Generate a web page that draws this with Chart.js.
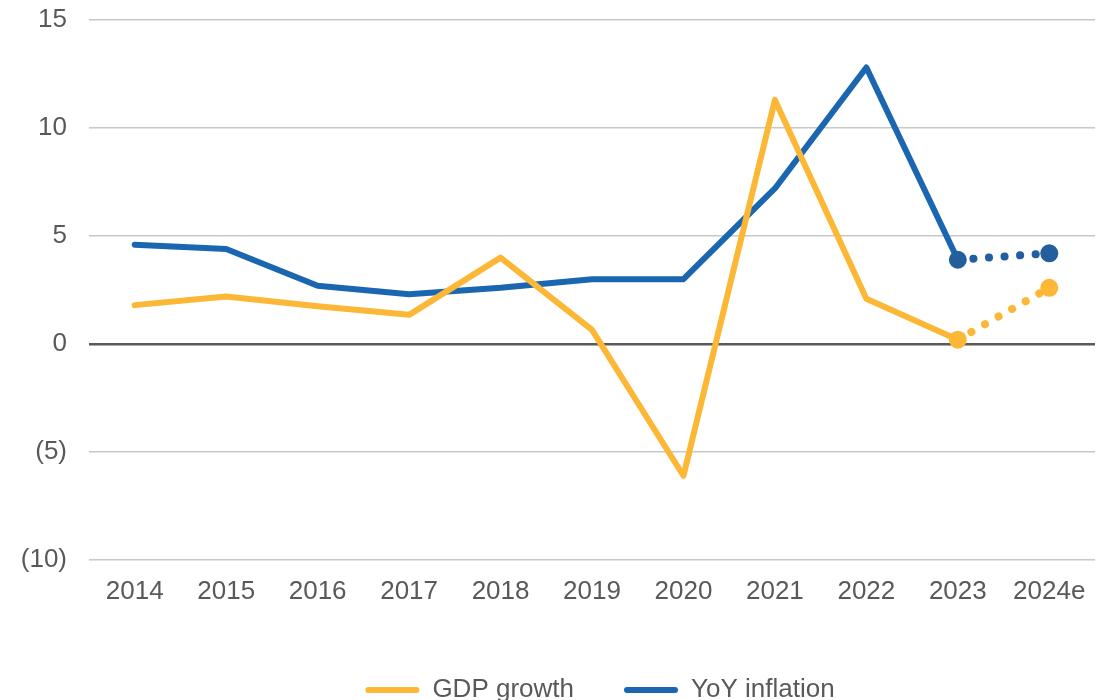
<!DOCTYPE html>
<html>
<head>
<meta charset="utf-8">
<script src="https://cdn.jsdelivr.net/npm/chart.js@4/dist/chart.umd.min.js"></script>
<style>
  html, body { margin: 0; padding: 0; background: #fff; }
  #wrap { width: 1109px; height: 700px; }
</style>
</head>
<body>
<div id="wrap"><canvas id="growthChart"></canvas></div>
<script>
// values
const years = ['2014', '2015', '2016', '2017', '2018', '2019', '2020', '2021', '2022', '2023', '2024e'];
const gdpGrowth = [1.8, 2.2, 1.75, 1.35, 4.0, 0.65, -6.1, 11.3, 2.1, 0.2, 2.6];
const yoyInflation = [4.6, 4.4, 2.7, 2.3, 2.6, 3.0, 3.0, 7.2, 12.8, 3.9, 4.2];
const yTicks = [-10, -5, 0, 5, 10, 15];

const GOLD = '#FBB735';
const BLUE = '#1B66B1';
const BLUE_DOT = '#255E9C';
const FONT = { family: 'Liberation Sans, Arial, sans-serif', size: 26 };
const estIdx = years.length - 1; // last point is an estimate -> dotted

function dotted(ctx) {
  return ctx.p1DataIndex === estIdx ? [0.1, 15.5] : undefined;
}
function markerRadius(ctx) {
  return ctx.dataIndex >= estIdx - 1 ? 9 : 0;
}

// nudge the legend row to the right, like the original
const legendShift = {
  id: 'legendShift',
  afterLayout(chart) {
    chart.legend.left += 42;
    chart.legend.right += 42;
  }
};

const ctx = document.getElementById('growthChart').getContext('2d');
new Chart(ctx, {
  type: 'line',
  data: {
    labels: years,
    datasets: [
      {
        label: 'GDP growth',
        data: gdpGrowth,
        borderColor: GOLD,
        backgroundColor: GOLD,
        borderWidth: 6,
        borderCapStyle: 'round',
        borderJoinStyle: 'round',
        pointRadius: markerRadius,
        pointBackgroundColor: GOLD,
        pointBorderWidth: 0,
        segment: { borderDash: dotted, borderWidth: ctx => ctx.p1DataIndex === estIdx ? 8 : 6 }
      },
      {
        label: 'YoY inflation',
        data: yoyInflation,
        borderColor: BLUE,
        backgroundColor: BLUE,
        borderWidth: 6,
        borderCapStyle: 'round',
        borderJoinStyle: 'round',
        pointRadius: markerRadius,
        pointBackgroundColor: BLUE_DOT,
        pointBorderWidth: 0,
        segment: {
          borderDash: dotted,
          borderColor: ctx => ctx.p1DataIndex === estIdx ? BLUE_DOT : undefined,
          borderWidth: ctx => ctx.p1DataIndex === estIdx ? 8 : 6
        }
      }
    ]
  },
  plugins: [legendShift],
  options: {
    responsive: true,
    maintainAspectRatio: false,
    animation: false,
    layout: { padding: { left: 21, right: 14, top: 20, bottom: -13 } },
    plugins: {
      tooltip: { enabled: false },
      legend: {
        position: 'bottom',
        labels: {
          font: FONT,
          color: '#595959',
          boxWidth: 54,
          boxHeight: 6,
          padding: 50,
          generateLabels(chart) {
            return chart.data.datasets.map((ds, i) => ({
              text: ds.label,
              fillStyle: ds.borderColor,
              strokeStyle: ds.borderColor,
              lineWidth: 0,
              borderRadius: 3,
              fontColor: '#595959',
              datasetIndex: i
            }));
          }
        }
      }
    },
    scales: {
      x: {
        offset: true,
        grid: { display: false, drawTicks: false },
        border: { display: false },
        afterFit(axis) {
          axis.height = 67;
          axis.paddingLeft = 0;
          axis.paddingRight = 0;
        },
        ticks: {
          padding: 16,
          color: '#595959',
          font: FONT,
          maxRotation: 0
        }
      },
      y: {
        min: -10,
        max: 15,
        afterBuildTicks(axis) {
          axis.ticks = yTicks.map(v => ({ value: v }));
        },
        afterFit(axis) {
          axis.width = 68;
          axis.paddingTop = 0;
          axis.paddingBottom = 0;
        },
        grid: {
          drawTicks: false,
          color: c => c.tick && c.tick.value === 0 ? '#595959' : '#C8C8C8',
          lineWidth: c => c.tick && c.tick.value === 0 ? 2.5 : 1.5
        },
        border: { display: false },
        ticks: {
          padding: 22,
          color: '#595959',
          font: FONT,
          callback: v => v < 0 ? '(' + Math.abs(v) + ')' : String(v)
        }
      }
    }
  }
});
</script>
</body>
</html>
